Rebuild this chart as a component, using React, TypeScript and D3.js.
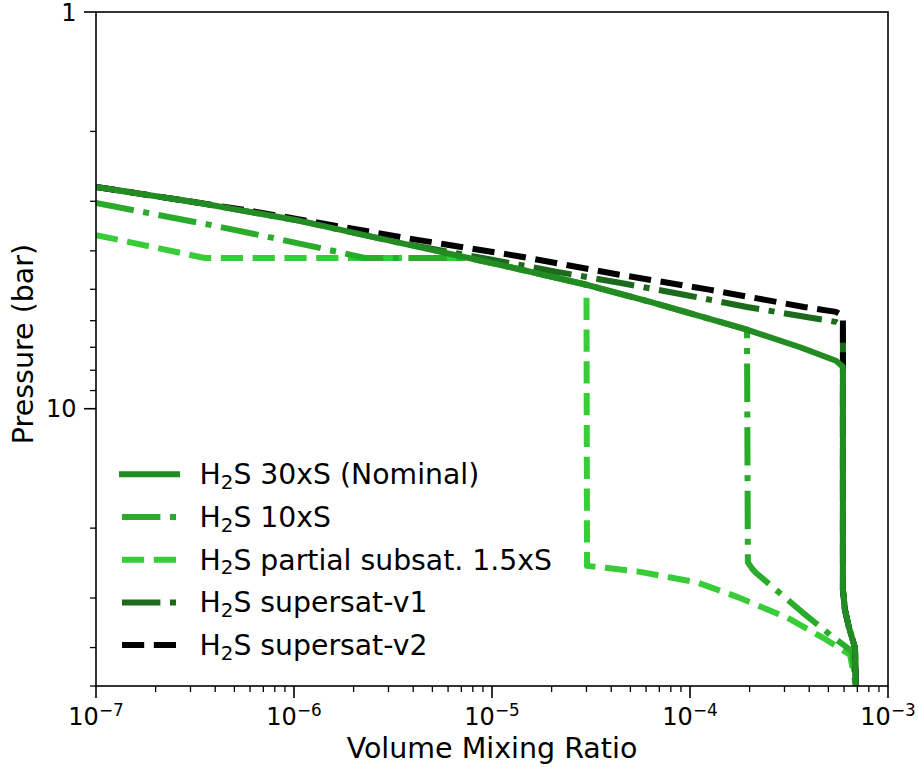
import React from "react";
import * as d3 from "d3";

// ---- Data (volume mixing ratio vs pressure in bar) ----
const nominalVmr = [1e-7, 3.35e-7, 1.07e-6, 3.43e-6, 1.1e-5, 3.0e-5, 6.3e-5, 1.94e-4, 3.6e-4, 5.46e-4, 5.92e-4, 5.92e-4, 6.06e-4, 6.35e-4, 6.81e-4, 6.89e-4];
const nominalP = [2.76, 3.03, 3.36, 3.82, 4.34, 4.87, 5.38, 6.32, 7.0, 7.57, 7.84, 28.6, 32.1, 35.6, 40.0, 50];

const tenxVmr = [1e-7, 3.77e-7, 7.83e-7, 1.65e-6, 2.28e-6, 7.56e-6, 1.1e-5, 3.0e-5, 6.3e-5, 1.94e-4, 1.96e-4, 2.06e-4, 2.15e-4, 3.72e-4, 5.09e-4, 6.58e-4, 6.89e-4];
const tenxP = [3.03, 3.44, 3.71, 4.02, 4.17, 4.17, 4.34, 4.87, 5.38, 6.32, 24.4, 25.3, 25.9, 32.7, 37.1, 40.9, 50];

const subsatVmr = [1e-7, 3.55e-7, 7.56e-6, 1.1e-5, 3.0e-5, 3.02e-5, 5.4e-5, 1.085e-4, 1.727e-4, 3.09e-4, 4.7e-4, 6.43e-4, 6.89e-4];
const subsatP = [3.65, 4.17, 4.17, 4.34, 4.87, 24.9, 25.7, 27.4, 29.8, 33.6, 37.8, 41.7, 50];

const v1Vmr = [1e-7, 3.35e-7, 1.07e-6, 3.43e-6, 1.0e-5, 2.13e-5, 4.48e-5, 9.33e-5, 1.94e-4, 4.08e-4, 5.46e-4, 5.92e-4, 5.92e-4, 5.92e-4, 6.06e-4, 6.35e-4, 6.81e-4, 6.89e-4];
const v1P = [2.76, 3.03, 3.36, 3.82, 4.21, 4.52, 4.82, 5.16, 5.54, 5.9, 6.04, 6.18, 7.84, 28.6, 32.1, 35.6, 40.0, 50];

const v2Vmr = [1e-7, 3.35e-7, 6.0e-7, 3.64e-6, 1.34e-5, 4.13e-5, 1.25e-4, 3.77e-4, 5.46e-4, 5.92e-4, 5.92e-4, 5.92e-4, 6.06e-4, 6.35e-4, 6.81e-4, 6.89e-4];
const v2P = [2.76, 3.03, 3.17, 3.71, 4.12, 4.57, 5.01, 5.54, 5.7, 5.83, 7.84, 28.6, 32.1, 35.6, 40.0, 50];

const legendLabels = ["30xS (Nominal)", "10xS", "partial subsat. 1.5xS", "supersat-v1", "supersat-v2"];

const xMajorTicks = [1e-7, 1e-6, 1e-5, 1e-4, 1e-3];
const xMajorExp = ["\u22127", "\u22126", "\u22125", "\u22124", "\u22123"];
const yMajorTicks = [1, 10];
const yMajorLabels = ["1", "10"];

// ---- layout ----
const W = 918, H = 767;
const L = 96, R = 888, T = 12, B = 686;
const FONT = "DejaVu Sans, sans-serif";
const LW = 6;
const DASHED = "22.2,9.6";
const DASHDOT = "38.4,9.6,6,9.6";
const TICK_FS = 24;
const LABEL_FS = 28.5;
const LEG_FS = 28.3;

const series = [
  { key: "nominal", vmr: nominalVmr, p: nominalP, color: "#228B22", dash: null as string | null, legend: 0 },
  { key: "tenx", vmr: tenxVmr, p: tenxP, color: "#2aab2a", dash: DASHDOT, legend: 1 },
  { key: "subsat", vmr: subsatVmr, p: subsatP, color: "#38cc38", dash: DASHED, legend: 2 },
  { key: "v1", vmr: v1Vmr, p: v1P, color: "#1c6b1c", dash: DASHDOT, legend: 3 },
  { key: "v2", vmr: v2Vmr, p: v2P, color: "#000000", dash: DASHED, legend: 4 },
];
const drawOrder = ["subsat", "tenx", "v1", "v2", "nominal"];

export default function App() {
  const x = d3.scaleLog().domain([1e-7, 1e-3]).range([L, R]);
  const y = d3.scaleLog().domain([1, 50]).range([T, B]);

  const line = d3
    .line<[number, number]>()
    .x((d) => x(d[0]))
    .y((d) => y(d[1]));

  const xMinor: number[] = [];
  for (let k = -7; k < -3; k++) for (let m = 2; m <= 9; m++) xMinor.push(m * Math.pow(10, k));
  const yMinor: number[] = [];
  for (let k = 0; k < 2; k++) for (let m = 2; m <= 9; m++) { const v = m * Math.pow(10, k); if (v <= 50) yMinor.push(v); }

  const legendY0 = 474.3, legendStep = 42.7;

  return (
    <svg width={W} height={H} style={{ position: "absolute", left: 0, top: 0, background: "#fff" }} fontFamily={FONT}>
      <defs>
        <clipPath id="plotclip">
          <rect x={L} y={T} width={R - L} height={B - T} />
        </clipPath>
      </defs>
      <rect x={0} y={0} width={W} height={H} fill="#fff" />
      <g clipPath="url(#plotclip)">
        {drawOrder.map((k) => {
          const s = series.find((q) => q.key === k)!;
          const pts = s.vmr.map((v, i) => [v, s.p[i]] as [number, number]);
          return (
            <path
              key={k}
              d={line(pts) || ""}
              fill="none"
              stroke={s.color}
              strokeWidth={LW}
              strokeDasharray={s.dash || undefined}
              strokeLinejoin="round"
              strokeLinecap={s.dash ? "butt" : "square"}
            />
          );
        })}
      </g>
      {/* spines */}
      <rect x={L} y={T} width={R - L} height={B - T} fill="none" stroke="#000" strokeWidth={1.6} />
      {/* x ticks */}
      {xMajorTicks.map((t, i) => (
        <g key={"xm" + i}>
          <line x1={x(t)} x2={x(t)} y1={B} y2={B + 12} stroke="#000" strokeWidth={1.6} />
          <text x={x(t)} y={725} fontSize={TICK_FS} textAnchor="middle">
            10
            <tspan fontSize={TICK_FS * 0.7} dy={-9}>{xMajorExp[i]}</tspan>
          </text>
        </g>
      ))}
      {xMinor.map((t, i) => (
        <line key={"xn" + i} x1={x(t)} x2={x(t)} y1={B} y2={B + 6} stroke="#000" strokeWidth={1.3} />
      ))}
      {/* y ticks */}
      {yMajorTicks.map((t, i) => (
        <g key={"ym" + i}>
          <line x1={L - 12} x2={L} y1={y(t)} y2={y(t)} stroke="#000" strokeWidth={1.6} />
          <text x={76.5} y={y(t) + TICK_FS * 0.364} fontSize={TICK_FS} textAnchor="end">
            {yMajorLabels[i]}
          </text>
        </g>
      ))}
      {yMinor.map((t, i) => (
        <line key={"yn" + i} x1={L - 6} x2={L} y1={y(t)} y2={y(t)} stroke="#000" strokeWidth={1.3} />
      ))}
      {/* axis labels */}
      <text x={(L + R) / 2} y={758} fontSize={LABEL_FS} textAnchor="middle">
        Volume Mixing Ratio
      </text>
      <text transform={`translate(33,344) rotate(-90)`} fontSize={LABEL_FS} textAnchor="middle">
        Pressure (bar)
      </text>
      {/* legend */}
      {series.map((s, i) => {
        const yy = legendY0 + s.legend * legendStep;
        return (
          <g key={"lg" + i}>
            <line
              x1={122}
              x2={177}
              y1={yy}
              y2={yy}
              stroke={s.color}
              strokeWidth={LW}
              strokeDasharray={s.dash || undefined}
              strokeLinecap={s.dash ? "butt" : "square"}
            />
            <text x={199.5} y={yy + 10} fontSize={LEG_FS}>
              H<tspan fontSize={LEG_FS * 0.7} dy={4.5}>2</tspan>
              <tspan dy={-4.5}>S {legendLabels[s.legend]}</tspan>
            </text>
          </g>
        );
      })}
    </svg>
  );
}
